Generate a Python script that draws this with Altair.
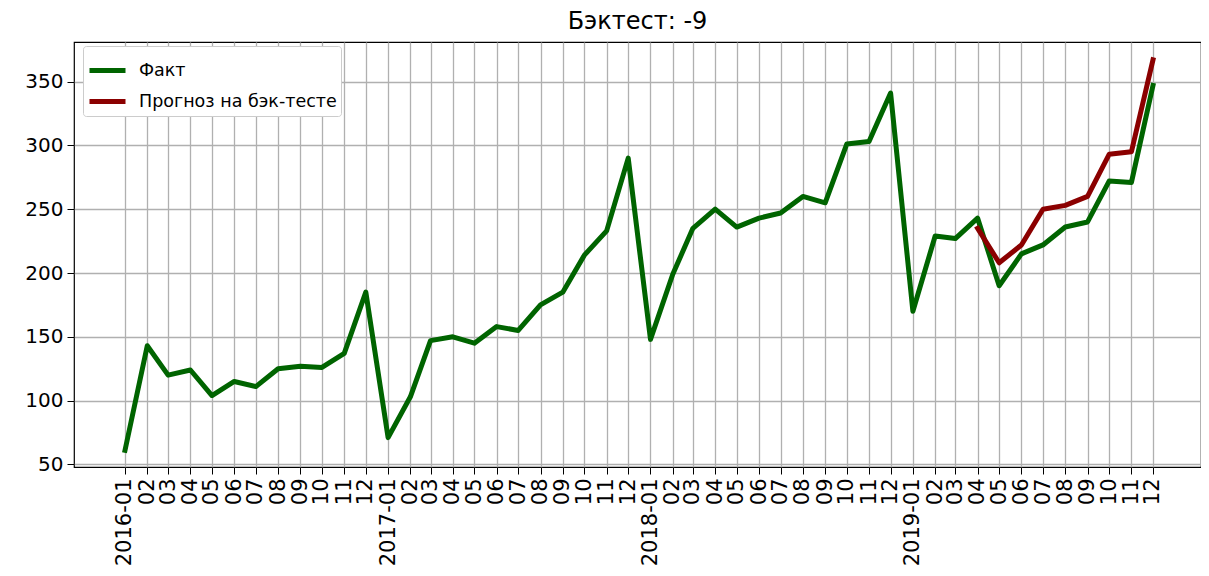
import altair as alt
import pandas as pd

months = pd.date_range("2016-01-01", "2019-12-01", freq="MS")
fact = [61, 143, 120, 124, 104, 115, 111, 125, 127, 126, 137, 185,
        71, 103, 147, 150, 145, 158, 155, 175, 185, 214, 233, 290,
        148, 199, 235, 250, 236, 243, 247, 260, 255, 301, 303, 341,
        170, 229, 227, 243, 190, 215, 222, 236, 240, 272, 271, 347]
forecast_start = "2019-04-01"
forecast = [235, 208, 222, 250, 253, 260, 293, 295, 367]
series_names = ["Факт", "Прогноз на бэк-тесте"]
series_colors = ["#006400", "#8B0000"]

def ms(ts):
    return int(pd.Timestamp(ts).value // 10**6)

rows = []
for d, v in zip(months, fact):
    rows.append({"t": ms(d), "value": v, "series": series_names[0], "k": 0})
fc_months = pd.date_range(forecast_start, periods=len(forecast), freq="MS")
for d, v in zip(fc_months, forecast):
    rows.append({"t": ms(d), "value": v, "series": series_names[1], "k": 1})
df = pd.DataFrame(rows)

t0, t1 = ms(months[0]), ms(months[-1])
span = t1 - t0
tick_vals = [ms(d) for d in months]

chart = alt.Chart(df).mark_line(strokeWidth=5, strokeCap="square", strokeJoin="round").encode(
    x=alt.X("t:T",
            scale=alt.Scale(type="utc", domain=[t0 - span * 0.0496, t1 + span * 0.0467], nice=False),
            axis=alt.Axis(values=tick_vals, title=None, labelAngle=-90,
                          labelExpr="utcmonth(datum.value) == 0 ? utcFormat(datum.value, '%Y-%m') : utcFormat(datum.value, '%m')",
                          labelFontSize=21, labelColor="black", tickColor="black", tickSize=7,
                          labelPadding=4, domain=False, grid=True, labelOverlap=False,
                          labelBound=False, labelFlush=False)),
    y=alt.Y("value:Q",
            scale=alt.Scale(domain=[48, 381], nice=False, zero=False),
            axis=alt.Axis(values=[50, 100, 150, 200, 250, 300, 350], title=None,
                          labelFontSize=20, labelColor="black", tickColor="black", tickSize=7,
                          labelPadding=4, domain=False, grid=True)),
    color=alt.Color("series:N",
                    scale=alt.Scale(domain=series_names, range=series_colors),
                    legend=alt.Legend(title=None, orient="none", legendX=9, legendY=4,
                                      symbolType="stroke",
                                      symbolSize=1296, symbolStrokeWidth=5, labelFontSize=17.5,
                                      labelLimit=400,
                                      labelColor="black", fillColor="white", strokeColor="#cccccc",
                                      padding=4, rowPadding=-7, cornerRadius=3,
                                      labelOffset=11)),
    order=alt.Order("k:Q"),
).properties(
    width=1127, height=425,
    title=alt.Title("Бэктест: -9", fontSize=24, fontWeight="normal", color="black", offset=8),
    autosize=alt.AutoSizeParams(type="none"),
    padding={"left": 66, "top": 34, "right": 0, "bottom": 101},
).configure(
    font="DejaVu Sans",
).configure_view(
    stroke="black", strokeWidth=1.2,
).configure_axis(
    gridColor="#b0b0b0", gridWidth=1.3, gridOpacity=1,
)

chart.save("out.html", embed_options={"renderer": "svg", "actions": False})
